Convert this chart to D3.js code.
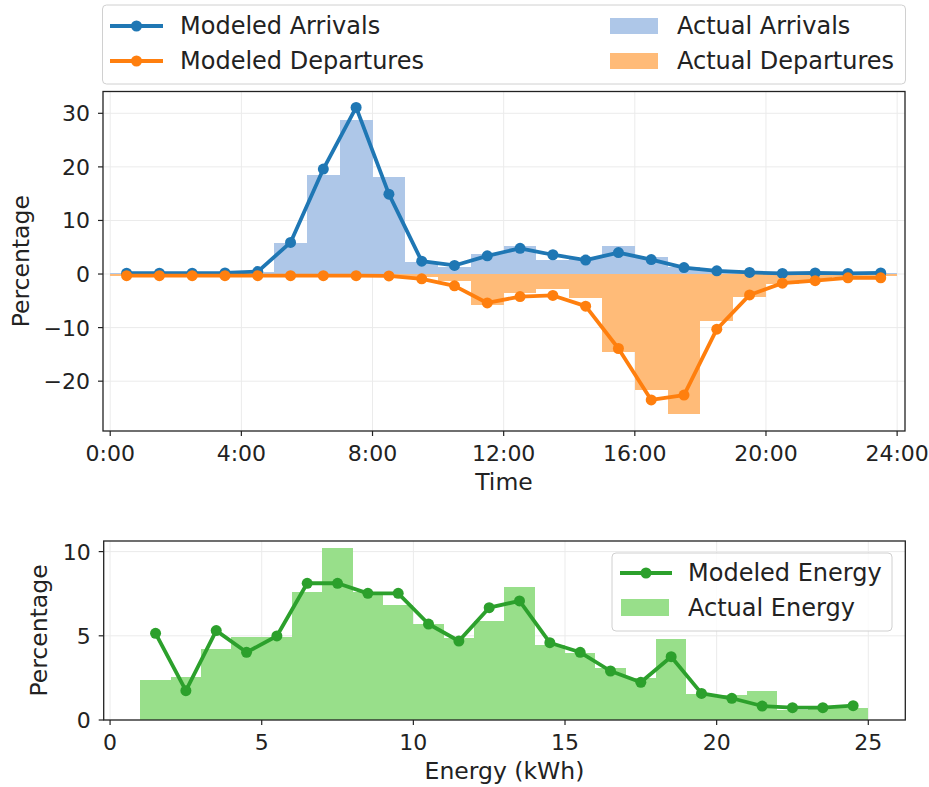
<!DOCTYPE html>
<meta charset="utf-8">
<script src="https://d3js.org/d3.v7.min.js"></script>
<style>
  body { margin: 0; background: white; font-family: "DejaVu Sans", sans-serif; }
  svg text { fill: #222; }
</style>
<div id="chart"></div>
<script>

// hourly bins 0..23, values in percent
var hours = d3.range(24);
var arrivalsActual   = [0.1, 0.1, 0.1, 0.1, 0.3, 5.7, 18.5, 28.7, 18.2, 2.2, 1.4, 3.7, 5.2, 2.7, 2.9, 5.2, 3.1, 1.4, 0.7, 0.3, 0.2, 0.1, 0.1, 0.1];
var arrivalsModel    = [0.15, 0.15, 0.15, 0.2, 0.45, 5.9, 19.6, 31.1, 14.9, 2.4, 1.6, 3.4, 4.8, 3.6, 2.6, 4.0, 2.7, 1.2, 0.6, 0.3, 0.12, 0.2, 0.12, 0.2];
var departuresActual = [-0.3, -0.3, -0.3, -0.3, -0.3, -0.3, -0.3, -0.3, -0.4, -0.5, -1.3, -5.8, -3.6, -2.8, -4.4, -14.6, -21.6, -26.2, -8.8, -4.2, -1.8, -1.1, -0.6, -0.4];
var departuresModel  = [-0.3, -0.3, -0.3, -0.3, -0.3, -0.3, -0.3, -0.3, -0.35, -0.9, -2.2, -5.4, -4.2, -4.0, -6.0, -13.9, -23.5, -22.6, -10.3, -3.9, -1.7, -1.25, -0.7, -0.7];

// energy bins 1..24 kWh (bin k covers k..k+1)
var energyBins   = d3.range(1, 25);
var energyActual = [2.38, 2.57, 4.2, 4.91, 4.95, 7.58, 10.2, 7.6, 6.83, 5.68, 4.85, 5.88, 7.92, 4.46, 4.0, 3.07, 2.5, 4.83, 1.54, 1.49, 1.72, 0.6, 0.7, 0.69];
var energyModel  = [5.15, 1.74, 5.31, 4.02, 4.99, 8.12, 8.12, 7.52, 7.52, 5.7, 4.69, 6.67, 7.07, 4.59, 4.02, 2.91, 2.24, 3.76, 1.58, 1.29, 0.83, 0.73, 0.73, 0.85];

var timeTicks = [0, 4, 8, 12, 16, 20, 24];
var timeLabels = ["0:00", "4:00", "8:00", "12:00", "16:00", "20:00", "24:00"];
var pctTicks = [-20, -10, 0, 10, 20, 30];
var energyTicks = [0, 5, 10, 15, 20, 25];
var energyPctTicks = [0, 5, 10];

var blue = "#1f77b4", orange = "#ff7f0e", green = "#2ca02c";
var lightBlue = "#aec7e8", lightOrange = "#ffbb78", lightGreen = "#98df8a";

var svg = d3.select("#chart").append("svg")
  .attr("width", 929)
  .attr("height", 787);

function drawGrid(g, x, y, xt, yt) {
  var x0 = x.range()[0], x1 = x.range()[1], y0 = y.range()[0], y1 = y.range()[1];
  g.selectAll(".gx").data(xt).enter().append("line")
    .attr("x1", function(d){ return x(d) }).attr("x2", function(d){ return x(d) })
    .attr("y1", y0).attr("y2", y1)
    .attr("stroke", "#ebebeb").attr("stroke-width", 1);
  g.selectAll(".gy").data(yt).enter().append("line")
    .attr("x1", x0).attr("x2", x1)
    .attr("y1", function(d){ return y(d) }).attr("y2", function(d){ return y(d) })
    .attr("stroke", "#ebebeb").attr("stroke-width", 1);
}

function drawFrame(g, x, y, xt, xlab, yt) {
  var x0 = x.range()[0], x1 = x.range()[1], y0 = y.range()[0], y1 = y.range()[1];
  g.append("rect")
    .attr("x", x0).attr("y", y1).attr("width", x1 - x0).attr("height", y0 - y1)
    .attr("fill", "none").attr("stroke", "#222").attr("stroke-width", 1.3);
  // x ticks
  g.selectAll(".tx").data(xt).enter().append("line")
    .attr("x1", function(d){ return x(d) }).attr("x2", function(d){ return x(d) })
    .attr("y1", y0).attr("y2", y0 + 5)
    .attr("stroke", "#222").attr("stroke-width", 1.2);
  g.selectAll(".lx").data(xt).enter().append("text")
    .attr("x", function(d){ return x(d) })
    .attr("y", y0 + 30)
    .attr("text-anchor", "middle")
    .style("font-size", "22px")
    .text(function(d, i){ return xlab[i] });
  // y ticks
  g.selectAll(".ty").data(yt).enter().append("line")
    .attr("x1", x0 - 5).attr("x2", x0)
    .attr("y1", function(d){ return y(d) }).attr("y2", function(d){ return y(d) })
    .attr("stroke", "#222").attr("stroke-width", 1.2);
  g.selectAll(".ly").data(yt).enter().append("text")
    .attr("x", x0 - 13)
    .attr("y", function(d){ return y(d) })
    .attr("dy", "0.36em")
    .attr("text-anchor", "end")
    .style("font-size", "22px")
    .text(function(d){ return d < 0 ? "\u2212" + Math.abs(d) : d });
}

function drawLine(g, x, y, xs, vals, color) {
  var pts = xs.map(function(d, i){ return [x(d), y(vals[i])] });
  g.append("path")
    .attr("d", d3.line()(pts))
    .attr("fill", "none")
    .attr("stroke", color)
    .attr("stroke-width", 3.8)
    .attr("stroke-linejoin", "round");
  g.selectAll(null).data(pts).enter().append("circle")
    .attr("cx", function(d){ return d[0] })
    .attr("cy", function(d){ return d[1] })
    .attr("r", 5.5)
    .attr("fill", color);
}

// ---------- top panel: arrivals / departures ----------
var xT = d3.scaleLinear().domain([-0.22, 24.24]).range([103, 905]);
var yT = d3.scaleLinear().domain([-29.3, 34.07]).range([431, 91.5]);
var topPanel = svg.append("g");

drawGrid(topPanel, xT, yT, timeTicks, pctTicks);

topPanel.selectAll(".arr").data(hours).enter().append("rect")
  .attr("x", function(h){ return xT(h) })
  .attr("width", function(h){ return xT(h + 1) - xT(h) })
  .attr("y", function(h){ return yT(arrivalsActual[h]) })
  .attr("height", function(h){ return yT(0) - yT(arrivalsActual[h]) })
  .attr("fill", lightBlue)
  .attr("shape-rendering", "crispEdges");

topPanel.selectAll(".dep").data(hours).enter().append("rect")
  .attr("x", function(h){ return xT(h) })
  .attr("width", function(h){ return xT(h + 1) - xT(h) })
  .attr("y", yT(0))
  .attr("height", function(h){ return yT(departuresActual[h]) - yT(0) })
  .attr("fill", lightOrange)
  .attr("shape-rendering", "crispEdges");

var hourMid = hours.map(function(h){ return h + 0.5 });
drawLine(topPanel, xT, yT, hourMid, arrivalsModel, blue);
drawLine(topPanel, xT, yT, hourMid, departuresModel, orange);

drawFrame(topPanel, xT, yT, timeTicks, timeLabels, pctTicks);

topPanel.append("text")
  .attr("x", (xT.range()[0] + xT.range()[1]) / 2)
  .attr("y", 490)
  .attr("text-anchor", "middle")
  .style("font-size", "23.5px")
  .text("Time");
topPanel.append("text")
  .attr("transform", "translate(29," + ((yT.range()[0] + yT.range()[1]) / 2) + ")rotate(-90)")
  .attr("text-anchor", "middle")
  .style("font-size", "23.5px")
  .text("Percentage");

// top legend
var leg = svg.append("g");
leg.append("rect")
  .attr("x", 102.5).attr("y", 5).attr("width", 803).attr("height", 79).attr("rx", 4)
  .attr("fill", "white").attr("fill-opacity", 0.8)
  .attr("stroke", "#d0d0d0");
[["Modeled Arrivals", blue, 26], ["Modeled Departures", orange, 61]].forEach(function(e){
  leg.append("line").attr("x1", 110).attr("x2", 163).attr("y1", e[2]).attr("y2", e[2])
    .attr("stroke", e[1]).attr("stroke-width", 3.8);
  leg.append("circle").attr("cx", 136.5).attr("cy", e[2]).attr("r", 5.5).attr("fill", e[1]);
  leg.append("text").attr("x", 180).attr("y", e[2] + 7.5).style("font-size", "24px").text(e[0]);
});
[["Actual Arrivals", lightBlue, 26], ["Actual Departures", lightOrange, 61]].forEach(function(e){
  leg.append("rect").attr("x", 610).attr("y", e[2] - 8).attr("width", 48).attr("height", 16)
    .attr("fill", e[1]);
  leg.append("text").attr("x", 677).attr("y", e[2] + 7.5).style("font-size", "24px").text(e[0]);
});

// ---------- bottom panel: energy ----------
var xB = d3.scaleLinear().domain([-0.21, 26.22]).range([103.7, 905.3]);
var yB = d3.scaleLinear().domain([0, 10.63]).range([720, 541]);
var botPanel = svg.append("g");

drawGrid(botPanel, xB, yB, energyTicks, energyPctTicks);

botPanel.selectAll(".en").data(energyBins).enter().append("rect")
  .attr("x", function(k){ return xB(k) })
  .attr("width", function(k){ return xB(k + 1) - xB(k) })
  .attr("y", function(k, i){ return yB(energyActual[i]) })
  .attr("height", function(k, i){ return yB(0) - yB(energyActual[i]) })
  .attr("fill", lightGreen)
  .attr("shape-rendering", "crispEdges");

drawLine(botPanel, xB, yB, energyBins.map(function(k){ return k + 0.5 }), energyModel, green);

drawFrame(botPanel, xB, yB, energyTicks, energyTicks.map(String), energyPctTicks);

botPanel.append("text")
  .attr("x", (xB.range()[0] + xB.range()[1]) / 2)
  .attr("y", 779)
  .attr("text-anchor", "middle")
  .style("font-size", "23.5px")
  .text("Energy (kWh)");
botPanel.append("text")
  .attr("transform", "translate(47," + ((yB.range()[0] + yB.range()[1]) / 2) + ")rotate(-90)")
  .attr("text-anchor", "middle")
  .style("font-size", "23.5px")
  .text("Percentage");

// bottom legend
var leg2 = svg.append("g");
leg2.append("rect")
  .attr("x", 612).attr("y", 553).attr("width", 280).attr("height", 78).attr("rx", 4)
  .attr("fill", "white").attr("fill-opacity", 0.8)
  .attr("stroke", "#d0d0d0");
leg2.append("line").attr("x1", 620).attr("x2", 672).attr("y1", 573).attr("y2", 573)
  .attr("stroke", green).attr("stroke-width", 3.8);
leg2.append("circle").attr("cx", 646).attr("cy", 573).attr("r", 5.5).attr("fill", green);
leg2.append("text").attr("x", 688).attr("y", 581).style("font-size", "24px").text("Modeled Energy");
leg2.append("rect").attr("x", 621).attr("y", 599).attr("width", 48).attr("height", 17).attr("fill", lightGreen);
leg2.append("text").attr("x", 688).attr("y", 616).style("font-size", "24px").text("Actual Energy");

</script>
